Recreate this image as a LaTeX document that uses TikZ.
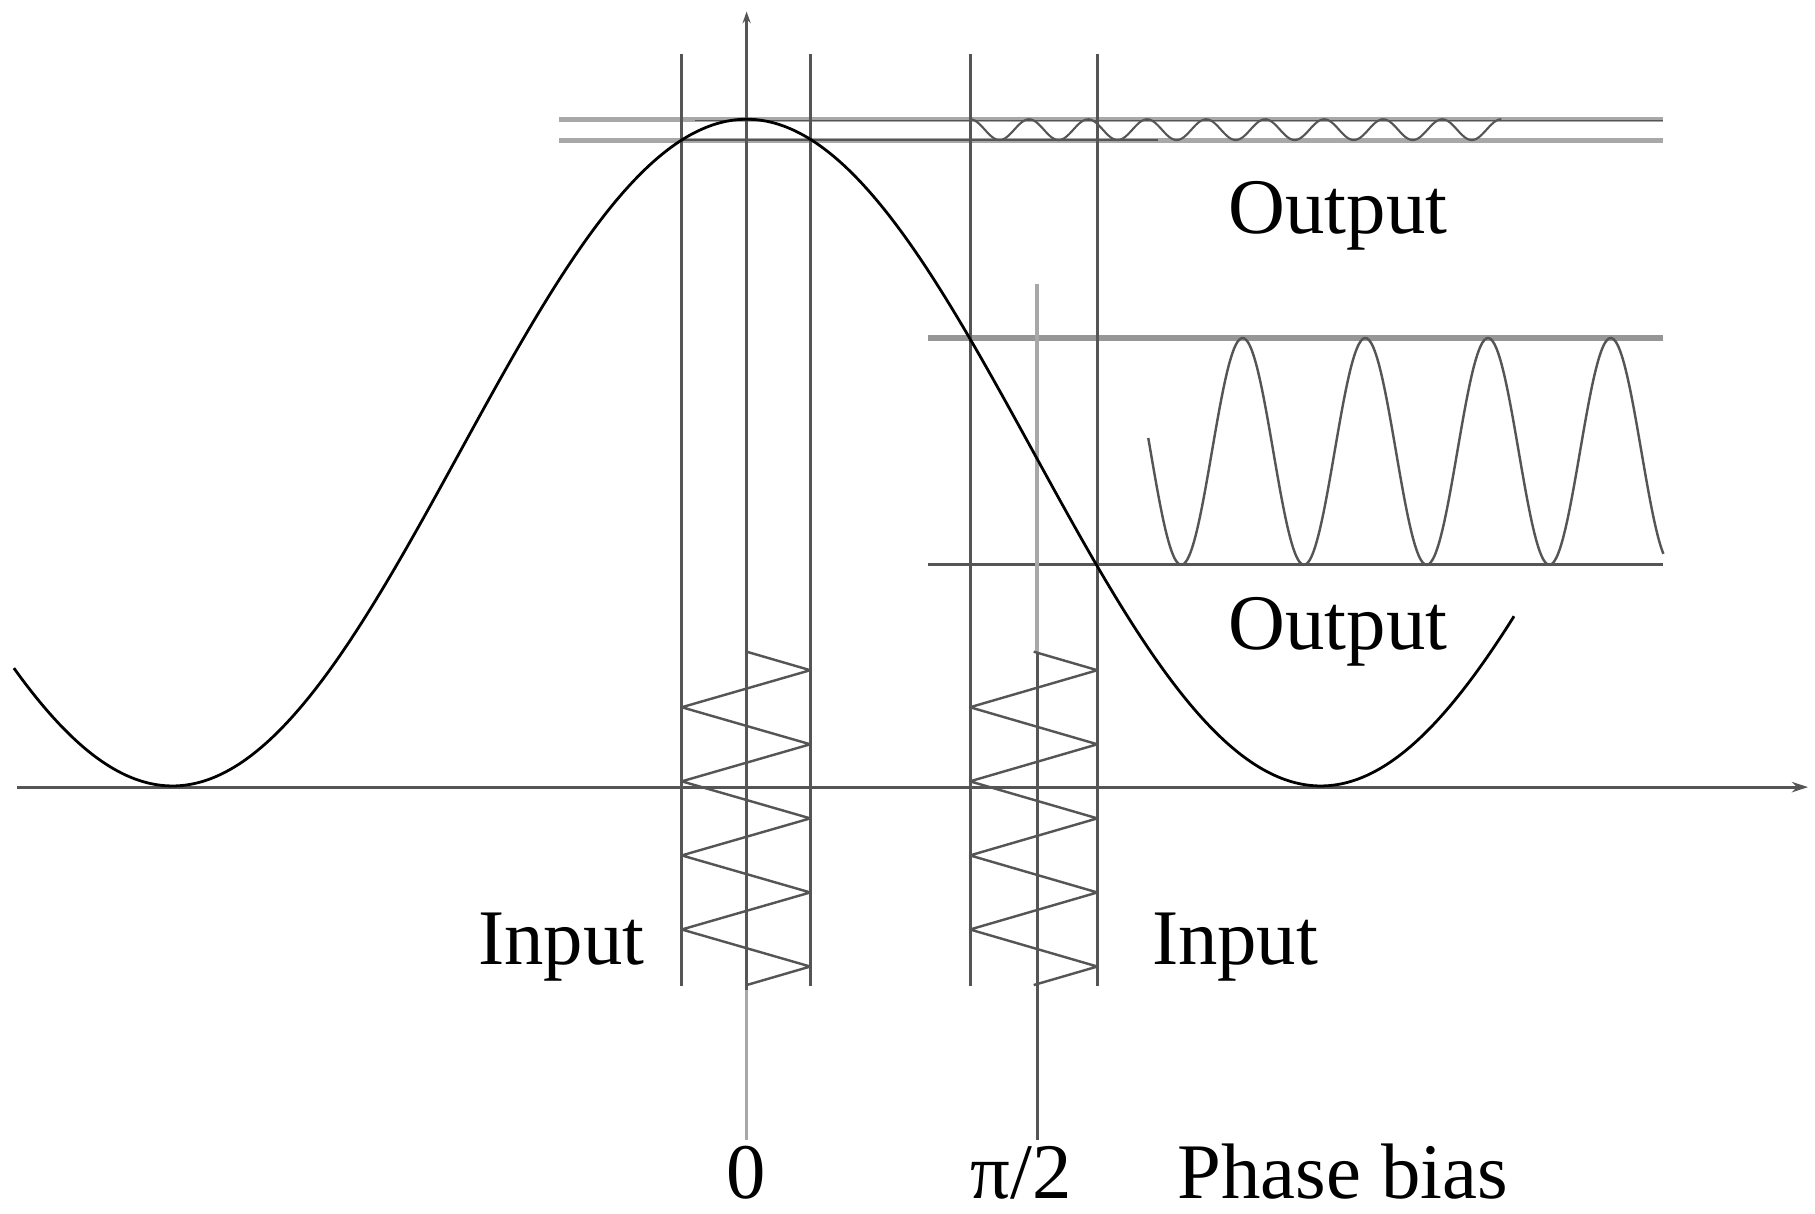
\documentclass[tikz,border=0pt]{standalone}
\usepackage{fontspec}
\setmainfont{Liberation Serif}
\usetikzlibrary{arrows.meta}
\definecolor{lgray}{RGB}{168,168,168}
\definecolor{mgray}{RGB}{150,150,150}
\definecolor{dgray}{RGB}{85,85,85}
\begin{document}
\begin{tikzpicture}[x=0.5pt,y=-0.5pt,
  lbl/.style={font=\fontsize{34}{40}\selectfont, inner sep=0pt, anchor=base},
  axisline/.style={draw=dgray, line width=1.25pt},
  boxline/.style={draw=dgray, line width=1.3pt},
  grayline/.style={draw=lgray, line width=1.3pt},
  bandline/.style={draw=lgray, line width=2.2pt},
  curve/.style={draw=black, line width=1.2pt},
  wave/.style={draw=dgray, line width=1.05pt, line join=round}]
\fill[white] (0,0) rectangle (1568,1048);
\useasboundingbox (0,0) rectangle (1568,1048);

% output bands
\draw[bandline] (483,103) -- (1437,103);
\draw[bandline] (483,121) -- (1437,121);
\draw[draw=dgray, line width=0.6pt] (600,104) -- (1437,104);
\draw[draw=dgray, line width=0.6pt] (589,121) -- (1000,121);
\draw[bandline, draw=mgray] (802,292) -- (1437,292);
\draw[draw=dgray, line width=1.4pt] (802,488) -- (1437,488);

% horizontal axis
\coordinate (xs) at (15,680);
\coordinate (xe) at (1562,680);
\draw[axisline, -{Stealth[length=7pt,width=4.5pt]}] (xs) -- (xe);

% vertical axis (phase 0)
\coordinate (ys) at (645,985);
\coordinate (yg) at (645,855);
\coordinate (ye) at (645,10);
\draw[axisline, -{Stealth[length=5pt,width=3.5pt]}] (yg) -- (ye);
\draw[grayline, line width=1.6pt] (ys) -- (yg);

% pi/2 line
\coordinate (pb) at (896,985);
\coordinate (pm) at (896,563);
\coordinate (pt) at (896,245);
\draw[grayline, line width=1.6pt] (pt) -- (pm);
\draw[axisline] (pm) -- (pb);

% window lines
\foreach \xx in {589,700,838,948} {
  \draw[boxline] (\xx,47) -- (\xx,852);
}

% transfer curve
\draw[curve] plot[domain=12:1308, samples=260, smooth] (\x, {391-288*cos((\x-645)*0.362903)});

% small output wave at the peak
\draw[wave, line width=0.9pt] plot[domain=838:1297, samples=220, smooth] (\x, {112-9*cos((\x-838)*7.058824)});

% large output wave at quadrature
\draw[wave] plot[domain=992:1437, samples=260, smooth] (\x, {390+98*cos((\x-1020.5)*3.396226)});

% input zigzags
\draw[wave] (645,563) -- (700,579) -- (589,611) -- (700,643) -- (589,675) -- (700,707) -- (589,739) -- (700,771) -- (589,803) -- (700,835) -- (645,851);
\draw[wave] (893,563) -- (948,579) -- (838,611) -- (948,643) -- (838,675) -- (948,707) -- (838,739) -- (948,771) -- (838,803) -- (948,835) -- (893,851);

% labels
\node[lbl] (out1) at (1156,202) {Output};
\node[lbl] (out2) at (1156,561) {Output};
\node[lbl] (in1) at (485,833) {Input};
\node[lbl] (in2) at (1067,833) {Input};
\node[lbl] (zero) at (645,1035) {0};
\node[lbl] (pihalf) at (882,1035) {π/2};
\node[lbl] (pbias) at (1160,1035) {Phase bias};
\end{tikzpicture}
\end{document}
